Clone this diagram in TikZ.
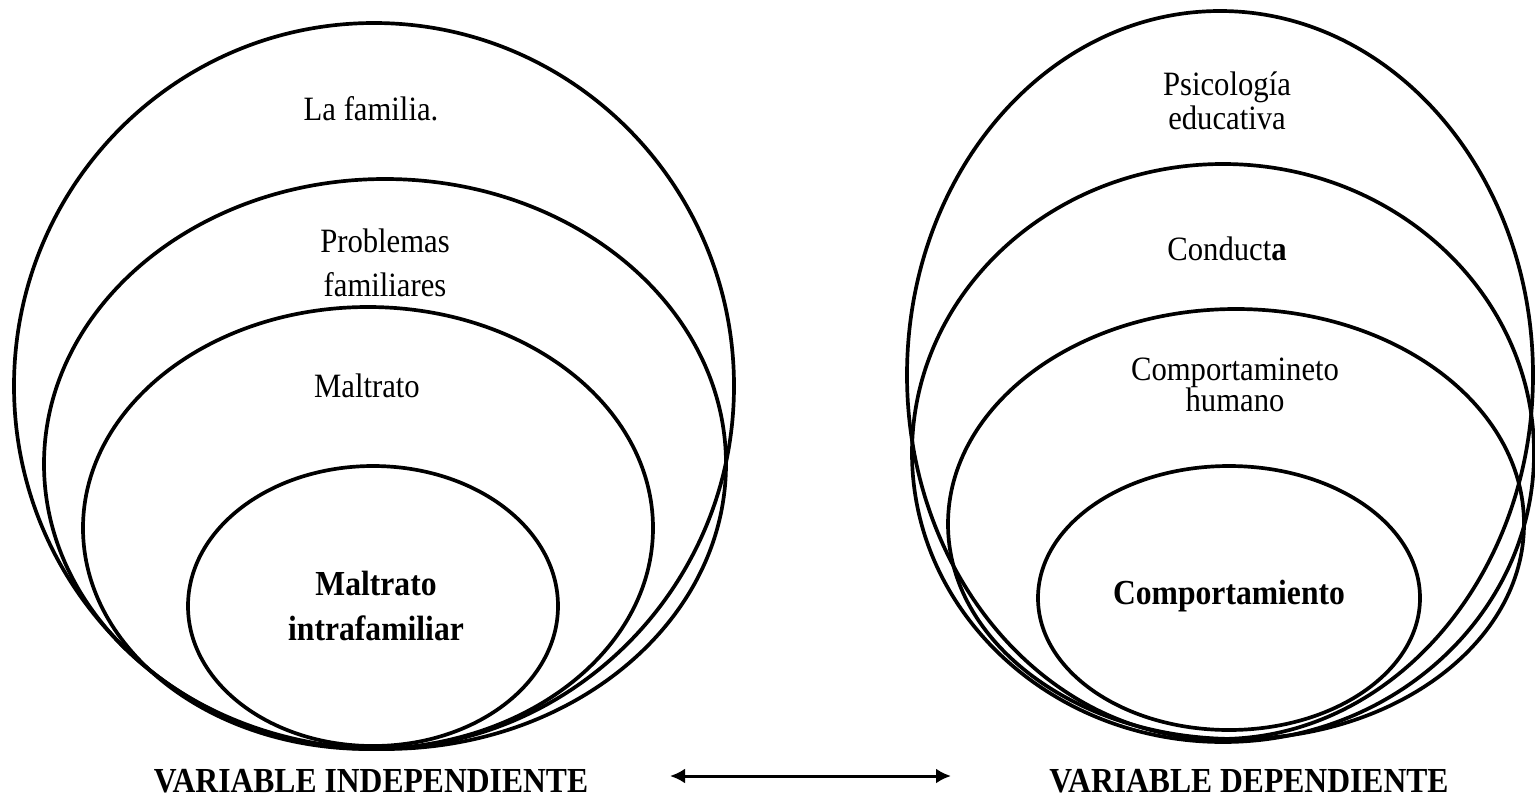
\documentclass[tikz,border=0pt]{standalone}
\usepackage{fontspec}
\setmainfont{Liberation Serif}[FakeStretch=0.9]
\usepackage{tikz}
\usetikzlibrary{calc}
\usetikzlibrary{math}
\usetikzlibrary{arrows.meta}

\begin{document}
\begin{tikzpicture}[x=0.02cm,y=-0.02cm]
            \tikzmath{\epais = 2.1;}
            \tikzset{
                anneau/.style={line width=\epais pt},
                texte/.style={font=\fontsize{19.4}{20}\selectfont, align=center},
                gras/.style={font=\fontsize{20}{21}\selectfont\bfseries, align=center}
            }
            \useasboundingbox (0,0) rectangle (1535,798);
            \foreach \cx/\cy/\rx/\ry in {374/386/360/363, 385/464/341/285, 368/528/285/221, 373/606/185/140,
                1220/375/313/364, 1223/453/311/289, 1236/524/288/215, 1229/598/191/132} {
                \draw[anneau] (\cx,\cy) ellipse ({\rx} and {\ry});
            }
            \node[texte] (famille) at (371,109) {La familia.};
            \node[texte] (problemes) at (385,263) {Problemas\\[5pt]familiares};
            \node[texte] (maltrato) at (367,386) {Maltrato};
            \node[gras] (intra) at (376,606) {Maltrato\\[5pt]intrafamiliar};
            \node[texte] (psico) at (1227,101) {Psicología\\[-1pt]educativa};
            \node[texte] (conducta) at (1227,249) {Conduct\textbf{a}};
            \node[texte] (humano) at (1235,385) {Comportamineto\\[-2pt]humano};
            \node[gras] (comporta) at (1229,596) {Comportamiento};
            \node[gras] (indep) at (371,781) {VARIABLE INDEPENDIENTE};
            \node[gras] (dep) at (1249,781) {VARIABLE DEPENDIENTE};
            \coordinate (flecheG) at (670,776);
            \coordinate (flecheD) at (951,776);
            \draw[{Latex[length=0.3cm,width=0.3cm]}-{Latex[length=0.3cm,width=0.3cm]}, line width=1.7pt] (flecheG) -- (flecheD);
        \end{tikzpicture}
\end{document}
